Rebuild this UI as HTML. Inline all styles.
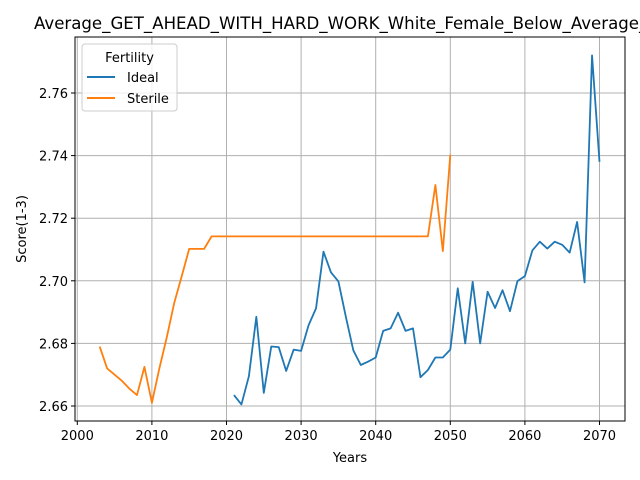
<!DOCTYPE html>
<html><head><meta charset="utf-8"><style>
body{margin:0;background:#fff}
svg{display:block;font-family:"DejaVu Sans","Liberation Sans",sans-serif}
</style></head><body>
<svg id="chart" width="640" height="480" viewBox="0 0 640 480" xmlns="http://www.w3.org/2000/svg">
<rect width="640" height="480" fill="#fff"/>
<g id="grid"></g>
<g id="series"></g>
<rect x="75" y="37" width="550" height="384" fill="none" stroke="#000" stroke-width="1"/>
<g id="ticks"></g>
<text x="34" y="29" font-size="16.6">Average_GET_AHEAD_WITH_HARD_WORK_White_Female_Below_Average_</text>
<text x="350" y="462" font-size="13" text-anchor="middle">Years</text>
<text transform="translate(26,229) rotate(-90)" font-size="13" text-anchor="middle">Score(1-3)</text>
<g>
<rect x="82" y="44" width="95" height="67" rx="3" fill="#fff" fill-opacity="0.8" stroke="#ccc"/>
<text x="129.5" y="62" font-size="13" text-anchor="middle">Fertility</text>
<line x1="87" y1="77" x2="115" y2="77" stroke="#1f77b4" stroke-width="2"/>
<text x="127" y="82" font-size="13">Ideal</text>
<line x1="87" y1="98" x2="115" y2="98" stroke="#ff7f0e" stroke-width="2"/>
<text x="127" y="103" font-size="13">Sterile</text>
</g>
</svg>
<script>
const xTicks=[2000,2010,2020,2030,2040,2050,2060,2070];
const yTicks=[2.66,2.68,2.70,2.72,2.74,2.76];
const yTickLabels=["2.66","2.68","2.70","2.72","2.74","2.76"];
const idealYears=[2021,2022,2023,2024,2025,2026,2027,2028,2029,2030,2031,2032,2033,2034,2035,2036,2037,2038,2039,2040,2041,2042,2043,2044,2045,2046,2047,2048,2049,2050,2051,2052,2053,2054,2055,2056,2057,2058,2059,2060,2061,2062,2063,2064,2065,2066,2067,2068,2069,2070];
const idealValues=[2.6635,2.6605,2.6695,2.6885,2.6642,2.679,2.6788,2.6712,2.678,2.6776,2.6858,2.6912,2.7093,2.7027,2.6998,2.6885,2.6778,2.6731,2.6742,2.6755,2.684,2.6848,2.6898,2.684,2.6848,2.6692,2.6715,2.6755,2.6755,2.678,2.6976,2.680,2.6997,2.680,2.6965,2.6913,2.697,2.6903,2.6999,2.7015,2.7097,2.7125,2.7103,2.7125,2.7115,2.709,2.7188,2.6995,2.772,2.738];
const sterileYears=[2003,2004,2005,2006,2007,2008,2009,2010,2011,2012,2013,2014,2015,2016,2017,2018,2047,2048,2049,2050];
const sterileValues=[2.679,2.672,2.670,2.668,2.6655,2.6635,2.6725,2.661,2.672,2.682,2.693,2.7015,2.7102,2.7102,2.7102,2.7142,2.7142,2.7306,2.7095,2.7403];
const X=v=>77.3+(v-2000)*(599.5-77.3)/70;
const Y=v=>406-(v-2.66)*(406-93)/0.1;
const NS='http://www.w3.org/2000/svg';
const grid=document.getElementById('grid'),ticks=document.getElementById('ticks'),ser=document.getElementById('series');
function mk(tag,attrs,parent){const e=document.createElementNS(NS,tag);for(const k in attrs)e.setAttribute(k,attrs[k]);parent.appendChild(e);return e;}
xTicks.forEach(t=>{
 const g=mk('line',{x1:X(t),x2:X(t),y1:37,y2:421,stroke:'#b0b0b0','stroke-width':1},grid);
 
 
 mk('line',{x1:X(t),x2:X(t),y1:421,y2:425,stroke:'#000'},ticks);
 const tx=mk('text',{x:X(t),y:440,'font-size':13,'text-anchor':'middle'},ticks);
 tx.textContent=t;
 
 
});
yTicks.forEach((t,i)=>{
 const g=mk('line',{x1:75,x2:625,y1:Y(t),y2:Y(t),stroke:'#b0b0b0','stroke-width':1},grid);
 
 
 mk('line',{x1:71,x2:75,y1:Y(t),y2:Y(t),stroke:'#000'},ticks);
 const tx=mk('text',{x:68,y:Y(t)+5,'font-size':13,'text-anchor':'end'},ticks);
 tx.textContent=yTickLabels[i];
 
 
});
function line(xs,vs,color,name){
 const p=mk('polyline',{points:xs.map((x,i)=>X(x)+','+Y(vs[i])).join(' '),fill:'none',stroke:color,'stroke-width':1.8,'stroke-linejoin':'round'},ser);
 
 
}
line(idealYears,idealValues,'#1f77b4','ideal-line');
line(sterileYears,sterileValues,'#ff7f0e','sterile-line');
</script>
</body></html>
